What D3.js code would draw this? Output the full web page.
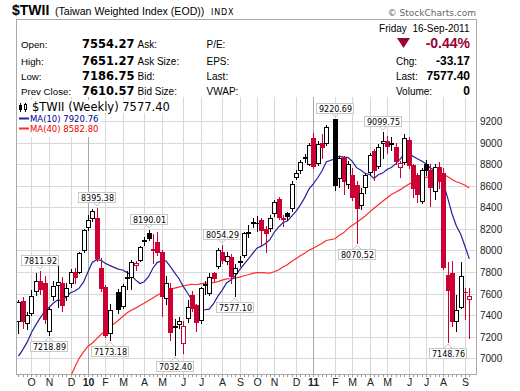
<!DOCTYPE html>
<html>
<head>
<meta charset="utf-8">
<title>$TWII Weekly</title>
<script src="https://cdn.jsdelivr.net/npm/d3@7"></script>
<style>
  html, body { margin: 0; padding: 0; background: #fff; }
  svg { display: block; }
  text { white-space: pre; }
</style>
</head>
<body>
<div id="chart"></div>
<script>
// Weekly bars, 18-Sep-2009 .. 16-Sep-2011 (null = no trading that week, lunar new year)
const opens = [
  7345, 7530, 7330, 7423, 7620, 7715, 7700, 7250, 7575, 7682,
  7700, 7580, 7700, 7800, 7800, 8000, 8220, 8300, 8300, 7840,
  7660, 7230, null, 7615, 7485, 7740, 7757, 7862, 7915, 8085,
  8160, 8010, 8080, 7985, 7560, 7650, 7290, 7315, 7140, 7370,
  7587, 7490, 7356, 7675, 7605, 7788, 7860, 7990, 7905, 7940,
  7790, 7890, 7960, 8160, 8265, 8250, 8280, 8200, 8205, 8345,
  8477, 8288, 8345, 8390, 8678, 8746, 8860, 8800, 9040, 8810,
  8995, 8995, null, 9215, 8668, 8865, 8615, 8700, 8610, 8420,
  8590, 8730, 8920, 8780, 9000, 9015, 8985, 8960, 8770, 8823,
  9020, 8790, 8695, 8455, 8805, 8750, 8550, 8775, 8720, 7773,
  7788, 7345, 7480, 7615, 7554.27
];
const highs = [
  7545, 7570, 7430, 7630, 7790, 7811.92, 7760, 7480, 7720, 7860,
  7750, 7700, 7830, 7840, 7990, 8200, 8330, 8385, 8395.38, 7930,
  7680, 7500, null, 7640, 7690, 7810, 7910, 7900, 8045, 8120,
  8190.01, 8150, 8170, 8000, 7760, 7700, 7360, 7380, 7350, 7540,
  7620, 7500, 7660, 7720, 7790, 7800, 8020, 8054.29, 7990, 7970,
  7870, 7950, 8170, 8240, 8300, 8320, 8300, 8230, 8330, 8470,
  8500, 8330, 8360, 8640, 8745, 8840, 8890, 9000, 9090, 9010,
  9080, 9160, null, 9220.69, 8870, 8880, 8830, 8760, 8640, 8580,
  8720, 8900, 8940, 8990, 9099.75, 9060, 9050, 9000, 8830, 9080,
  9050, 8800, 8720, 8760, 8840, 8800, 8800, 8820, 8760, 7896,
  7900, 7590, 7890, 7650, 7651.27
];
const lows = [
  7230, 7280, 7270, 7400, 7590, 7600, 7330, 7218.89, 7540, 7480,
  7440, 7540, 7660, 7700, 7790, 7990, 8190, 8270, 7900, 7620,
  7200, 7173.18, null, 7420, 7470, 7640, 7640, 7820, 7900, 8050,
  8100, 7880, 7960, 7390, 7500, 7170, 7032.40, 7280, 7050, 7340,
  7440, 7250, 7330, 7600, 7590, 7720, 7840, 7880, 7870, 7700,
  7577.10, 7860, 7940, 8120, 8220, 8180, 8050, 7990, 8180, 8320,
  8290, 8230, 8280, 8370, 8660, 8720, 8820, 8790, 8760, 8790,
  8860, 8980, null, 8560, 8590, 8520, 8580, 8470, 8070.52, 8380,
  8530, 8700, 8650, 8760, 8860, 8900, 8930, 8800, 8680, 8800,
  8760, 8500, 8450, 8440, 8700, 8410, 8480, 8580, 7830, 7148.76,
  7300, 7250, 7470, 7360, 7186.75
];
const closes = [
  7525, 7345, 7400, 7578, 7715, 7640, 7360, 7460, 7670, 7708,
  7490, 7650, 7800, 7752, 7975, 8190, 8280, 8370, 7930, 7650,
  7216, 7450, null, 7460, 7670, 7752, 7895, 7880, 8035, 8095,
  8115, 8000, 7990, 7580, 7700, 7240, 7300, 7345, 7300, 7480,
  7465, 7340, 7648, 7685, 7755, 7745, 8000, 7910, 7950, 7760,
  7840, 7900, 8160, 8175, 8255, 8258, 8190, 8160, 8298, 8452,
  8313, 8305, 8315, 8620, 8720, 8823, 8870, 8980, 8780, 8990,
  8962, 9145, null, 8610, 8854, 8640, 8800, 8500, 8395, 8530,
  8700, 8885, 8750, 8960, 9010, 8970, 8995, 8825, 8810, 9040,
  8795, 8580, 8520, 8745, 8750, 8585, 8775, 8640, 7850, 7633,
  7345, 7445, 7760, 7610.57, 7577.40
];

const ma10Lead = [7020, 7080, 7150, 7240, 7310, 7375, 7430, 7470, 7510];
const ma40Lead = [
  null, null, null, null, null, null, null, null, null, null,
  null, null, 6830, 6920, 7000, 7060, 7110, 7140, 7180, 7220,
  7250, 7290, null, 7350, 7385, 7420, 7445, 7465, 7490, 7510,
  7535, 7560, 7585, 7605, 7625, 7640, 7650, 7660, 7670, 7678
];

// month gridlines: label and bar index
const monthLabels = ["O", "N", "D", "10", "F", "M", "A", "M", "J", "J", "A", "S",
                     "O", "N", "D", "11", "F", "M", "A", "M", "J", "J", "A", "S"];
const monthBars = [3, 7, 12, 16, 20, 24, 29, 33, 38, 42, 47, 51,
                   55, 59, 64, 68, 73, 77, 81, 85, 90, 94, 98, 103];
const yTicks = [7000, 7200, 7400, 7600, 7800, 8000, 8200, 8400, 8600, 8800, 9000, 9200];

// high / low call-outs
const calloutBars = [5, 18, 30, 47, 73, 84, 7, 21, 36, 50, 78, 99];
const calloutSides = ["high", "high", "high", "high", "high", "high",
                      "low", "low", "low", "low", "low", "low"];

const RED = "#cc0033";
const BLACK = "#000";
const MA10_COLOR = "#22229a";
const MA40_COLOR = "#ff2a2a";
const GRID = "#d8d8d8";

const W = 520, H = 391;
const plot = { left: 16, right: 476, top: 97, bottom: 374 };

const svg = d3.select("#chart").append("svg")
    .attr("width", W)
    .attr("height", H)
    .style("font-family", "'Liberation Sans', Arial, sans-serif");

svg.append("rect").attr("width", W).attr("height", H).attr("fill", "#fff");

const x = d3.scaleLinear().domain([-1, 104]).range([14.16, 469.3]);
const y = d3.scaleLinear().domain([7000, 9200]).range([358.3, 121]);
const px = i => Math.round(x(i));
const py = v => Math.round(y(v));

// ---------- header ----------
svg.append("text").attr("x", 12).attr("y", 15)
    .style("font-size", "14px").style("font-weight", "bold").text("$TWII");
svg.append("text").attr("x", 55).attr("y", 15)
    .style("font-size", "10.6px").text("(Taiwan Weighted Index (EOD))");
svg.append("text").attr("x", 211).attr("y", 15)
    .style("font-family", "'DejaVu Sans', sans-serif")
    .style("font-size", "8px").style("letter-spacing", "0.8px").text("INDX");
svg.append("text").attr("x", 476).attr("y", 15.5).attr("text-anchor", "end")
    .style("font-family", "'DejaVu Sans', sans-serif")
    .style("font-size", "9px").attr("fill", "#666").text("\u00a9 StockCharts.com");

// frame round the quote box and the chart
svg.append("rect")
    .attr("x", plot.left + 0.5).attr("y", 19.5)
    .attr("width", plot.right - plot.left).attr("height", plot.bottom - 19)
    .attr("fill", "none").attr("stroke", "#aaa");

const rowY = [48, 64.5, 80, 95];
const leftLabels = ["Open:", "High:", "Low:", "Prev Close:"];
const leftValues = ["7554.27", "7651.27", "7186.75", "7610.57"];
const midLabels = ["Ask:", "Ask Size:", "Bid:", "Bid Size:"];
const farLabels = ["P/E:", "EPS:", "Last:", "VWAP:"];
const rightLabels = ["Chg:", "Last:", "Volume:"];
const rightValues = ["-33.17", "7577.40", "0"];

const hdr = svg.append("g");
leftLabels.forEach((t, k) => hdr.append("text").attr("x", 21).attr("y", rowY[k])
    .style("font-size", "9.7px").text(t));
midLabels.forEach((t, k) => hdr.append("text").attr("x", 137.5).attr("y", rowY[k])
    .style("font-size", "10px").text(t));
farLabels.forEach((t, k) => hdr.append("text").attr("x", 206.5).attr("y", rowY[k])
    .style("font-size", "10px").text(t));
rightLabels.forEach((t, k) => hdr.append("text").attr("x", 396).attr("y", rowY[k + 1])
    .style("font-size", "10px").text(t));

// left values are the wider verdana-like bold, right ones arial bold
svg.append("g")
    .style("font-family", "'DejaVu Sans', sans-serif")
    .style("font-size", "11.5px").style("font-weight", "bold")
    .attr("text-anchor", "end")
    .selectAll("text")
    .data(leftValues)
    .join("text")
    .attr("x", 134.5).attr("y", (d, k) => rowY[k])
    .text(d => d);

svg.append("g")
    .style("font-size", "12px").style("font-weight", "bold")
    .attr("text-anchor", "end")
    .selectAll("text")
    .data(rightValues)
    .join("text")
    .attr("x", 470).attr("y", (d, k) => rowY[k + 1])
    .text(d => d);

svg.append("text").attr("x", 469.5).attr("y", 31.5).attr("text-anchor", "end")
    .style("font-size", "10px").text("Friday  16-Sep-2011");
svg.append("text").attr("x", 470).attr("y", 48).attr("text-anchor", "end")
    .style("font-size", "14px").style("font-weight", "bold").attr("fill", "#990033")
    .text("-0.44%");
svg.append("path").attr("d", "M397,38 L410,38 L403.5,48 Z").attr("fill", "#990033");

// ---------- grid ----------
const grid = svg.append("g").attr("shape-rendering", "crispEdges");

grid.selectAll(".hgrid")
    .data(yTicks)
    .join("line")
    .attr("x1", plot.left + 1).attr("x2", plot.right)
    .attr("y1", d => py(d) + 0.5).attr("y2", d => py(d) + 0.5)
    .attr("stroke", GRID);

grid.selectAll(".vgrid")
    .data(monthBars)
    .join("line")
    .attr("x1", d => px(d) + 0.5).attr("x2", d => px(d) + 0.5)
    .attr("y1", plot.top).attr("y2", plot.bottom)
    .attr("stroke", (d, k) => monthLabels[k].length > 1 ? "#a8a8a8" : GRID);

// weekly ticks under the chart
grid.selectAll(".wtick")
    .data(d3.range(0, closes.length))
    .join("line")
    .attr("x1", d => px(d) + 0.5).attr("x2", d => px(d) + 0.5)
    .attr("y1", plot.bottom + 1).attr("y2", plot.bottom + 3)
    .attr("stroke", "#999");

// axis labels
svg.append("g")
    .selectAll("text")
    .data(yTicks)
    .join("text")
    .attr("x", 480).attr("y", d => py(d) + 4)
    .style("font-size", "10px").attr("fill", "#222")
    .text(d => d);

svg.append("g")
    .selectAll("text")
    .data(monthBars)
    .join("text")
    .attr("x", d => px(d) + 0.5).attr("y", 386)
    .attr("text-anchor", "middle")
    .style("font-size", "10.5px")
    .style("font-weight", (d, k) => monthLabels[k].length > 1 ? "bold" : "normal")
    .attr("fill", "#222")
    .text((d, k) => monthLabels[k]);

// ---------- plot content ----------
svg.append("clipPath").attr("id", "clip")
    .append("rect")
    .attr("x", plot.left + 1).attr("y", plot.top)
    .attr("width", plot.right - plot.left - 1).attr("height", plot.bottom - plot.top);

const chart = svg.append("g").attr("clip-path", "url(#clip)");

// moving averages
function movingAverage(n, lead) {
    const out = [];
    closes.forEach((c, i) => {
        if (c == null) return;
        const win = closes.slice(0, i + 1).filter(v => v != null).slice(-n);
        const v = win.length === n ? d3.mean(win) : lead[i];
        if (v != null) out.push({ i, v });
    });
    return out;
}

const line = d3.line().x(d => x(d.i)).y(d => y(d.v));

chart.append("path")
    .datum(movingAverage(40, ma40Lead))
    .attr("d", line)
    .attr("fill", "none").attr("stroke", MA40_COLOR).attr("stroke-width", 1.2);

chart.append("path")
    .datum(movingAverage(10, ma10Lead))
    .attr("d", line)
    .attr("fill", "none").attr("stroke", MA10_COLOR).attr("stroke-width", 1.2);

// candles
const bars = closes.map((c, i) => c == null ? null : {
    i, o: opens[i], h: highs[i], l: lows[i], c,
    hollow: c > opens[i],
    red: i > 0 && closes[i - 1] != null && c < closes[i - 1]
}).filter(Boolean);

const candles = chart.append("g").attr("shape-rendering", "crispEdges")
    .selectAll("g")
    .data(bars)
    .join("g");

candles.append("line")
    .attr("x1", d => px(d.i) + 0.5).attr("x2", d => px(d.i) + 0.5)
    .attr("y1", d => py(d.h)).attr("y2", d => py(d.l) + 1)
    .attr("stroke", d => d.red ? RED : BLACK);

candles.each(function (d) {
    const g = d3.select(this);
    const col = d.red ? RED : BLACK;
    const top = py(Math.max(d.o, d.c));
    const bot = py(Math.min(d.o, d.c));
    if (d.hollow && bot - top >= 2) {
        g.append("rect")
            .attr("x", px(d.i) - 1.5).attr("y", top + 0.5)
            .attr("width", 4).attr("height", bot - top)
            .attr("fill", "#fff").attr("stroke", col);
    } else {
        g.append("rect")
            .attr("x", px(d.i) - 2).attr("y", top)
            .attr("width", 5).attr("height", Math.max(bot - top + 1, 1))
            .attr("fill", col);
    }
});

// call-outs for highs and lows
const callouts = chart.append("g")
    .style("font-family", "'DejaVu Sans', sans-serif")
    .style("font-size", "8px");

calloutBars.forEach((b, k) => {
    const isHigh = calloutSides[k] === "high";
    const v = isHigh ? highs[b] : lows[b];
    const cx = px(b);
    const tip = isHigh ? py(v) - 2 : py(v) + 2;
    const boxY = isHigh ? tip - 14 : tip + 4;
    const g = callouts.append("g");
    g.append("path")
        .attr("d", isHigh
            ? `M${cx - 4},${boxY + 10} L${cx},${tip} L${cx + 4},${boxY + 10}`
            : `M${cx - 4},${boxY} L${cx},${tip} L${cx + 4},${boxY}`)
        .attr("fill", "none").attr("stroke", "#c8c8c8");
    g.append("rect")
        .attr("x", cx - 18.5).attr("y", boxY + 0.5)
        .attr("width", 37).attr("height", 10)
        .attr("fill", "#fff").attr("stroke", "#c8c8c8");
    g.append("text")
        .attr("x", cx + 0.5).attr("y", boxY + 8.5)
        .attr("text-anchor", "middle")
        .text(v.toFixed(2));
});

// ---------- legend ----------
const legend = svg.append("g");
legend.append("rect").attr("x", 17).attr("y", 100).attr("width", 156).attr("height", 13).attr("fill", "#fff");
legend.append("rect").attr("x", 17).attr("y", 113).attr("width", 84).attr("height", 24).attr("fill", "#fff");

// little candle icon
const icon = legend.append("g").attr("shape-rendering", "crispEdges");
icon.append("line").attr("x1", 20.5).attr("x2", 20.5).attr("y1", 103).attr("y2", 112).attr("stroke", "#000");
icon.append("rect").attr("x", 19).attr("y", 105).attr("width", 3).attr("height", 5).attr("fill", "#000");
icon.append("line").attr("x1", 25.5).attr("x2", 25.5).attr("y1", 103).attr("y2", 112).attr("stroke", "#000");
icon.append("rect").attr("x", 24.5).attr("y", 104.5).attr("width", 2).attr("height", 5).attr("fill", "#fff").attr("stroke", "#000");

legend.append("text").attr("x", 32).attr("y", 111)
    .style("font-family", "'DejaVu Sans', sans-serif").style("font-size", "11.5px")
    .text("$TWII (Weekly) 7577.40");

const maRows = [
    { label: "MA(10) 7920.76", color: MA10_COLOR, y: 118.5 },
    { label: "MA(40) 8582.80", color: MA40_COLOR, y: 128.5 }
];
maRows.forEach(r => {
    legend.append("line").attr("x1", 19).attr("x2", 29).attr("y1", r.y).attr("y2", r.y)
        .attr("stroke", r.color).attr("stroke-width", 2);
    legend.append("text").attr("x", 30).attr("y", r.y + 3.5)
        .style("font-family", "'DejaVu Sans', sans-serif").style("font-size", "8.5px")
        .attr("fill", r.color === MA10_COLOR ? "#000099" : "#ee0000")
        .text(r.label);
});
</script>
</body>
</html>
